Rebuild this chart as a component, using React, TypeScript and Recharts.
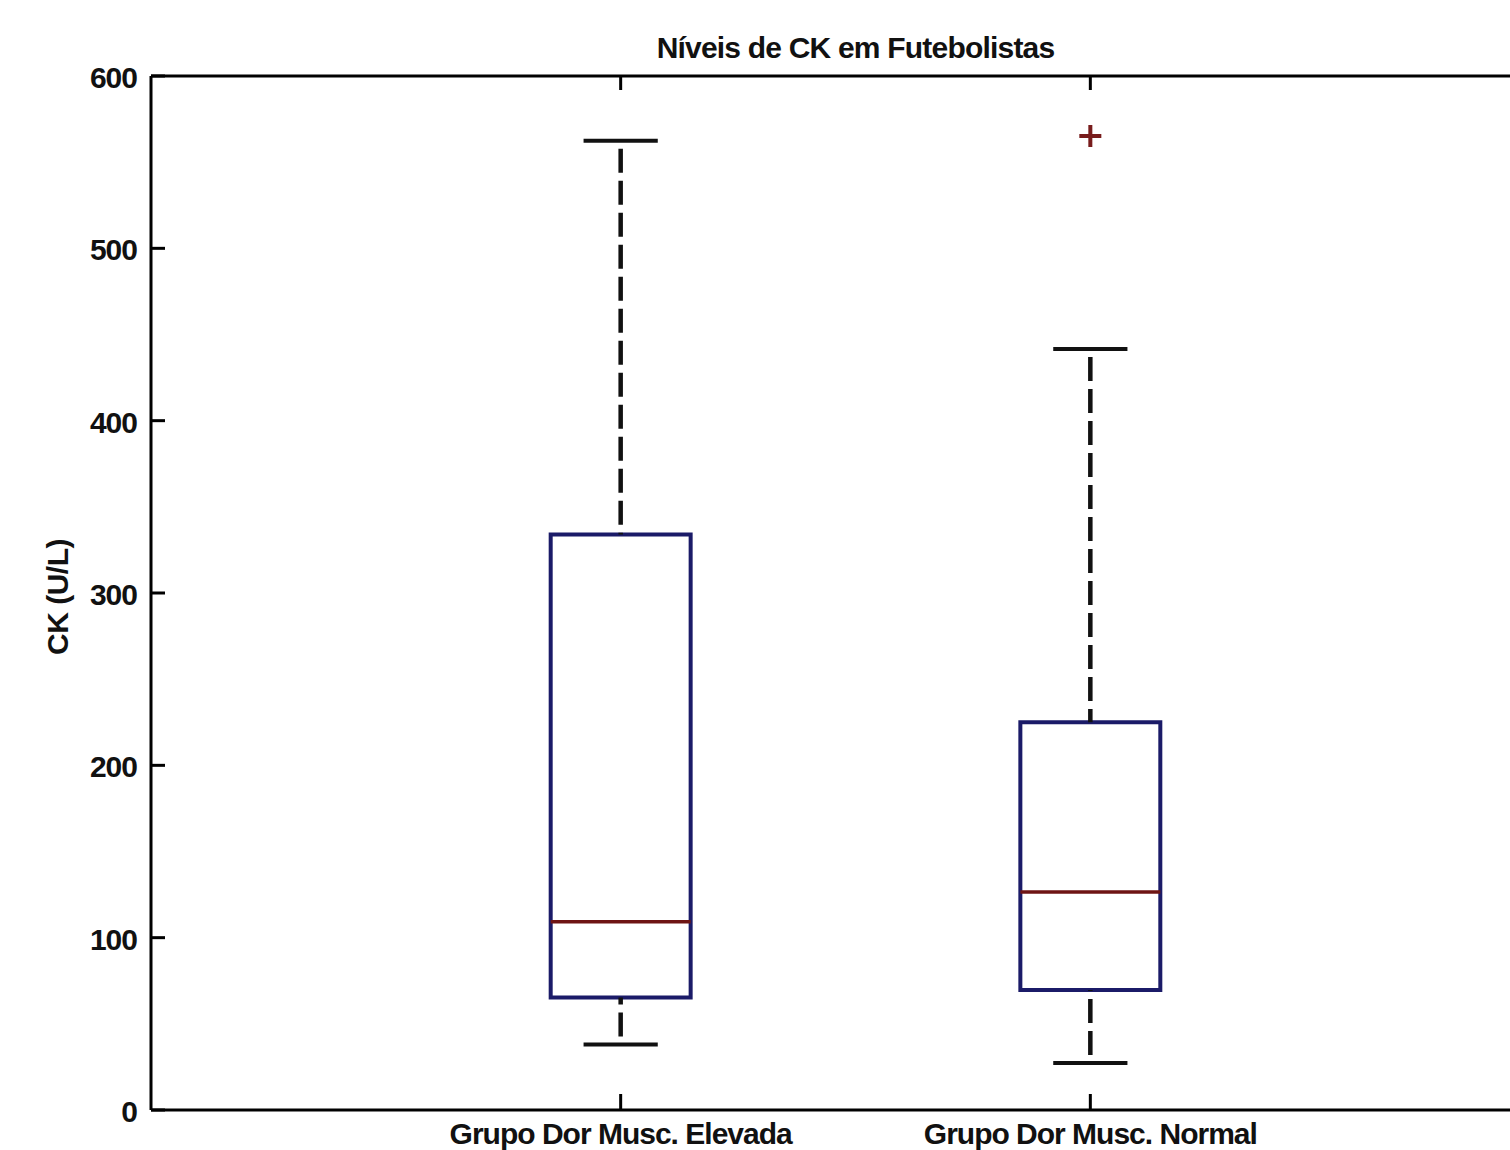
import { ComposedChart, XAxis, YAxis, Scatter, ReferenceArea, ReferenceLine } from 'recharts';

// boxplot summary per group (U/L)
const groups = ['Grupo Dor Musc. Elevada', 'Grupo Dor Musc. Normal'];
const positions = [1, 2];
const lowerWhisker = [38, 27.3];
const q1 = [65.3, 69.6];
const median = [109.3, 126.5];
const q3 = [334, 225];
const upperWhisker = [562.5, 441.6];
const outliers = [[], [565.2]];

const yTicks = [0, 100, 200, 300, 400, 500, 600];
const title = 'Níveis de CK em Futebolistas';
const yLabel = 'CK (U/L)';

const FONT = '"Liberation Sans", Arial, Helvetica, sans-serif';
const BOX_HALF = 0.149;
const CAP_HALF = 0.079;
const BOX_COLOR = '#1b1b68';
const MEDIAN_COLOR = '#6e1414';
const OUTLIER_COLOR = '#781c1c';

const outlierData = positions.flatMap((p, i) => outliers[i].map((v) => ({ pos: p, value: v })));

const YTick = (props: any) => {
    const { x, y, payload } = props;
    return (
        <g>
            <line x1={x + 14} x2={x + 28} y1={y} y2={y} stroke="#000" strokeWidth={3} />
            <text
                x={x}
                y={y}
                dy={12}
                textAnchor="end"
                fontFamily={FONT}
                fontWeight="bold"
                fontSize={30}
                letterSpacing={-1}
                fill="#111">
                {payload.value}
            </text>
        </g>
    );
};

const BottomTick = (props: any) => {
    const { x, y, payload, index } = props;
    return (
        <g>
            <line x1={x} x2={x} y1={y} y2={y - 16} stroke="#000" strokeWidth={3} />
            <text
                x={x}
                y={y}
                dy={34}
                textAnchor="middle"
                fontFamily={FONT}
                fontWeight="bold"
                fontSize={30}
                letterSpacing={-1}
                fill="#111">
                {groups[index] ?? payload.value}
            </text>
        </g>
    );
};

// short inward tick hanging from the top border
const TopTick = (props: any) => {
    const top = Math.min(props.y1, props.y2);
    return <line x1={props.x1} x2={props.x1} y1={top} y2={top + 14} stroke="#000" strokeWidth={3} />;
};

const Plus = (props: any) => {
    const { cx, cy } = props;
    return (
        <path
            d={`M${cx - 11},${cy}H${cx + 11}M${cx},${cy - 11}V${cy + 11}`}
            stroke={OUTLIER_COLOR}
            strokeWidth={4}
            fill="none"
        />
    );
};

const App = () => {
    return (
        <div
            style={{
                position: 'fixed',
                left: 0,
                top: 0,
                width: 1510,
                height: 1150,
                overflow: 'hidden',
                background: 'white',
            }}>
            <ComposedChart width={1600} height={1160} margin={{ top: 75, right: 40, bottom: 0, left: 0 }}>
                <XAxis
                    xAxisId="top"
                    orientation="top"
                    type="number"
                    dataKey="pos"
                    domain={[0, 3]}
                    ticks={positions}
                    interval={0}
                    height={1}
                    tickSize={0}
                    tickMargin={0}
                    tickLine={false}
                    tick={false}
                    axisLine={{ stroke: '#000', strokeWidth: 3 }}
                    label={(props: any) => {
                        const vb = props.viewBox;
                        return (
                            <text
                                x={vb.x + vb.width / 2}
                                y={vb.y - 17}
                                textAnchor="middle"
                                fontFamily={FONT}
                                fontWeight="bold"
                                fontSize={30}
                                letterSpacing={-0.8}
                                fill="#111">
                                {title}
                            </text>
                        );
                    }}
                />
                <XAxis
                    type="number"
                    dataKey="pos"
                    domain={[0, 3]}
                    ticks={positions}
                    interval={0}
                    height={50}
                    tickSize={0}
                    tickMargin={0}
                    tickLine={false}
                    axisLine={{ stroke: '#000', strokeWidth: 3 }}
                    tick={<BottomTick />}
                />
                <YAxis
                    type="number"
                    dataKey="value"
                    domain={[0, 600]}
                    ticks={yTicks}
                    interval={0}
                    width={151}
                    tickSize={0}
                    tickMargin={14}
                    tickLine={false}
                    axisLine={{ stroke: '#000', strokeWidth: 3 }}
                    tick={<YTick />}
                    label={(props: any) => {
                        const vb = props.viewBox;
                        const cx = vb.x + 68;
                        const cy = vb.y + vb.height / 2 + 4;
                        return (
                            <text
                                x={cx}
                                y={cy}
                                transform={`rotate(-90, ${cx}, ${cy})`}
                                textAnchor="middle"
                                fontFamily={FONT}
                                fontWeight="bold"
                                fontSize={30}
                                letterSpacing={-0.5}
                                fill="#111">
                                {yLabel}
                            </text>
                        );
                    }}
                />

                {positions.map((p, i) => (
                    <ReferenceLine key={`tt${i}`} x={p} shape={<TopTick />} />
                ))}
                {positions.map((p, i) => (
                    <ReferenceLine
                        key={`uw${i}`}
                        segment={[
                            { x: p, y: upperWhisker[i] },
                            { x: p, y: q3[i] },
                        ]}
                        stroke="#111"
                        strokeWidth={4.5}
                        strokeDasharray="24 8"
                        strokeDashoffset={24}
                    />
                ))}
                {positions.map((p, i) => (
                    <ReferenceLine
                        key={`lw${i}`}
                        segment={[
                            { x: p, y: lowerWhisker[i] },
                            { x: p, y: q1[i] },
                        ]}
                        stroke="#111"
                        strokeWidth={4.5}
                        strokeDasharray="24 8"
                        strokeDashoffset={24}
                    />
                ))}
                {positions.map((p, i) => (
                    <ReferenceLine
                        key={`uc${i}`}
                        segment={[
                            { x: p - CAP_HALF, y: upperWhisker[i] },
                            { x: p + CAP_HALF, y: upperWhisker[i] },
                        ]}
                        stroke="#111"
                        strokeWidth={4}
                    />
                ))}
                {positions.map((p, i) => (
                    <ReferenceLine
                        key={`lc${i}`}
                        segment={[
                            { x: p - CAP_HALF, y: lowerWhisker[i] },
                            { x: p + CAP_HALF, y: lowerWhisker[i] },
                        ]}
                        stroke="#111"
                        strokeWidth={4}
                    />
                ))}
                {positions.map((p, i) => (
                    <ReferenceArea
                        key={`box${i}`}
                        x1={p - BOX_HALF}
                        x2={p + BOX_HALF}
                        y1={q1[i]}
                        y2={q3[i]}
                        fill="#fff"
                        fillOpacity={1}
                        stroke={BOX_COLOR}
                        strokeWidth={4}
                    />
                ))}
                {positions.map((p, i) => (
                    <ReferenceLine
                        key={`med${i}`}
                        segment={[
                            { x: p - BOX_HALF, y: median[i] },
                            { x: p + BOX_HALF, y: median[i] },
                        ]}
                        stroke={MEDIAN_COLOR}
                        strokeWidth={3.5}
                    />
                ))}
                <Scatter data={outlierData} dataKey="value" shape={<Plus />} isAnimationActive={false} />
            </ComposedChart>
        </div>
    );
};

export default App;
